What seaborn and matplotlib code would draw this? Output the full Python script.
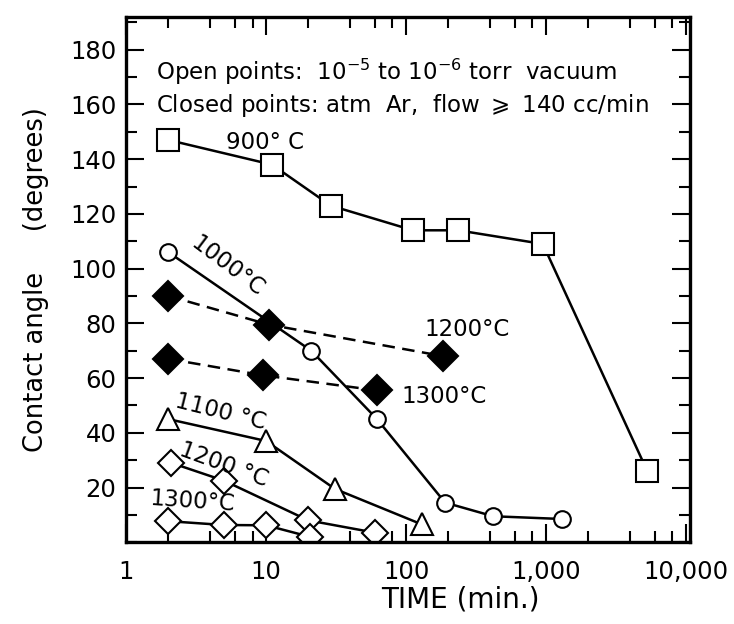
import matplotlib
matplotlib.use("Agg")
import matplotlib.pyplot as plt
import matplotlib.ticker as mticker
import seaborn as sns
import numpy as np

# ---- data ----
t_900 = [2, 11, 29, 112, 235, 950, 5300]
a_900 = [147, 138, 123, 114, 114, 109, 26]

t_1000 = [2, 21, 62, 190, 420, 1300]
a_1000 = [106, 70, 45, 14.5, 9.5, 8.5]

t_1100 = [2, 10, 31, 130]
a_1100 = [45, 37, 19.5, 6.5]

t_1200o = [2.1, 5, 20, 60]
a_1200o = [29, 22.5, 8, 3.5]

t_1300o = [2, 5, 10, 20.5]
a_1300o = [7.7, 6.3, 6.2, 2]

t_1200c = [2, 10.5, 185]
a_1200c = [90, 79.5, 68]

t_1300c = [2, 9.5, 62]
a_1300c = [67, 61, 55.5]

xticks = [1, 10, 100, 1000, 10000]
xticklabels = ["1", "10", "100", "1,000", "10,000"]
yticks = [20, 40, 60, 80, 100, 120, 140, 160, 180]

sns.set_theme(style="ticks")
plt.rcParams['font.family'] = ['DejaVu Sans']
plt.rcParams['text.color'] = 'black'
plt.rcParams['axes.labelcolor'] = 'black'

fig = plt.figure(figsize=(7.34, 6.24), dpi=100)
ax = fig.add_axes([0.172, 0.131, 0.768, 0.842])

lw = 1.8
common = dict(color="black", linewidth=lw, markeredgecolor="black",
              markeredgewidth=1.5, ax=ax)

sns.lineplot(x=t_900, y=a_900, marker="s", markersize=16.5,
             markerfacecolor="white", **common)
sns.lineplot(x=t_1000, y=a_1000, marker="o", markersize=12,
             markerfacecolor="white", **common)
sns.lineplot(x=t_1100, y=a_1100, marker="^", markersize=15.5,
             markerfacecolor="white", **common)
sns.lineplot(x=t_1200o, y=a_1200o, marker="D", markersize=13,
             markerfacecolor="white", **common)
sns.lineplot(x=t_1300o, y=a_1300o, marker="D", markersize=13,
             markerfacecolor="white", **common)
sns.lineplot(x=t_1200c, y=a_1200c, marker="D", markersize=15,
             markerfacecolor="black", linestyle=(0, (5, 3)), **common)
sns.lineplot(x=t_1300c, y=a_1300c, marker="D", markersize=15,
             markerfacecolor="black", linestyle=(0, (5, 3)), **common)

ax.set_xscale("log")
ax.set_xlim(1, 10700)
ax.set_ylim(0, 192)
ax.set_xticks(xticks)
ax.set_xticklabels(xticklabels)
ax.xaxis.set_minor_locator(mticker.LogLocator(base=10, subs=[2, 4, 6, 8]))
ax.xaxis.set_minor_formatter(mticker.NullFormatter())
ax.set_yticks(yticks)
ax.yaxis.set_minor_locator(mticker.MultipleLocator(10))

ax.tick_params(which="both", direction="in", top=True, right=True,
               color="black", width=1.5, labelsize=17.5, labelcolor="black")
ax.tick_params(which="major", length=13)
ax.tick_params(which="minor", length=8)
ax.tick_params(axis="x", which="major", pad=13)
ax.tick_params(axis="y", which="major", pad=7)
for s in ax.spines.values():
    s.set_linewidth(2.4)
    s.set_color("black")

ax.set_xlabel("TIME (min.)", fontsize=20)
ax.xaxis.set_label_coords(0.592, -0.082)
ax.set_ylabel("Contact angle     (degrees)", fontsize=18.5, labelpad=15)

# annotations
ax.text(0.052, 0.895, r"Open points:  10$^{-5}$ to 10$^{-6}$ torr  vacuum",
        transform=ax.transAxes, fontsize=16.5, ha="left", va="center")
ax.text(0.052, 0.832, r"Closed points: atm  Ar,  flow $\geqslant$ 140 cc/min",
        transform=ax.transAxes, fontsize=16.5, ha="left", va="center")

lab = dict(fontsize=16.5, ha="center", va="center")
ax.text(0.247, 0.76, "900° C", transform=ax.transAxes, **lab)
ax.text(0.18, 0.525, "1000°C", transform=ax.transAxes, rotation=-37, **lab)
ax.text(0.605, 0.405, "1200°C", transform=ax.transAxes, **lab)
ax.text(0.563, 0.278, "1300°C", transform=ax.transAxes, **lab)
ax.text(0.168, 0.248, "1100 °C", transform=ax.transAxes, rotation=-14, **lab)
ax.text(0.172, 0.148, "1200 °C", transform=ax.transAxes, rotation=-20, **lab)
ax.text(0.118, 0.078, "1300°C", transform=ax.transAxes, rotation=-4, **lab)

fig.savefig("out.png", dpi=100)
